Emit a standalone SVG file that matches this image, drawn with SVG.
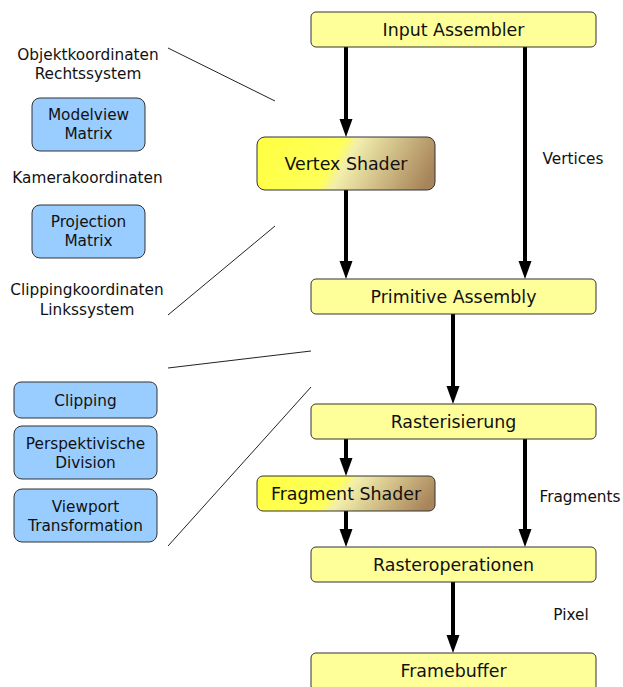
<svg xmlns="http://www.w3.org/2000/svg" width="623" height="687" viewBox="0 0 623 687">
<style>
.bx{fill:#ffff99;stroke:#333;stroke-width:1}
.sh{fill:url(#shg);stroke:#333;stroke-width:1}
.bl{fill:#99ccff;stroke:#333;stroke-width:1}
.t{font-family:"DejaVu Sans",sans-serif;fill:#111;text-anchor:middle}
.big{font-size:17.4px}
.sm{font-size:15.3px}
.ar{stroke:#000;stroke-width:4;fill:none;marker-end:url(#ah)}
.ln{stroke:#222;stroke-width:1;fill:none}
</style>
<defs>
<linearGradient id="shg" x1="0" y1="0.42" x2="1" y2="0.58">
<stop offset="0" stop-color="#ffff44"/>
<stop offset="0.42" stop-color="#ffff5a"/>
<stop offset="0.5" stop-color="#f2eeac"/>
<stop offset="1" stop-color="#a8845a"/>
</linearGradient>
<marker id="ah" markerUnits="userSpaceOnUse" markerWidth="20" markerHeight="14" refX="8" refY="6.5" orient="auto">
<path d="M0,0 L18,6.5 L0,13 z" fill="#000"/>
</marker>
</defs>
<g id="connectors">
<line class="ar" x1="346" y1="47" x2="346" y2="127"/>
<line class="ar" x1="346" y1="190" x2="346" y2="269"/>
<line class="ar" x1="525" y1="47" x2="525" y2="269"/>
<line class="ar" x1="453" y1="314" x2="453" y2="394"/>
<line class="ar" x1="346" y1="439" x2="346" y2="466"/>
<line class="ar" x1="346" y1="511" x2="346" y2="537"/>
<line class="ar" x1="525" y1="439" x2="525" y2="537"/>
<line class="ar" x1="453" y1="582" x2="453" y2="643"/>
<line class="ln" x1="168" y1="48" x2="275" y2="101"/>
<line class="ln" x1="275" y1="226" x2="168" y2="315"/>
<line class="ln" x1="168" y1="368" x2="311" y2="351"/>
<line class="ln" x1="311" y1="387" x2="168" y2="546"/>
</g>
<g id="input-assembler"><rect class="bx" x="311" y="12" width="285" height="35" rx="5"/><text class="t big" x="453.5" y="36">Input Assembler</text></g>
<g id="vertex-shader"><rect class="sh" x="257" y="137" width="178" height="53" rx="8"/><text class="t big" x="346" y="170">Vertex Shader</text></g>
<g id="primitive-assembly"><rect class="bx" x="311" y="279" width="285" height="35" rx="5"/><text class="t big" x="453.5" y="303">Primitive Assembly</text></g>
<g id="rasterisierung"><rect class="bx" x="311" y="404" width="285" height="35" rx="5"/><text class="t big" x="453.5" y="428">Rasterisierung</text></g>
<g id="fragment-shader"><rect class="sh" x="257" y="476" width="178" height="35" rx="6"/><text class="t big" x="346" y="500">Fragment Shader</text></g>
<g id="rasteroperationen"><rect class="bx" x="311" y="547" width="285" height="35" rx="5"/><text class="t big" x="453.5" y="571">Rasteroperationen</text></g>
<g id="framebuffer"><rect class="bx" x="311" y="653" width="285" height="38" rx="5"/><text class="t big" x="453.5" y="677">Framebuffer</text></g>
<g id="label-vertices"><text class="t sm" x="573" y="164">Vertices</text></g>
<g id="label-fragments"><text class="t sm" x="580" y="502">Fragments</text></g>
<g id="label-pixel"><text class="t sm" x="571" y="620">Pixel</text></g>
<g id="objektkoordinaten"><text class="t sm" x="88" y="60">Objektkoordinaten</text><text class="t sm" x="88" y="79">Rechtssystem</text></g>
<g id="modelview"><rect class="bl" x="32" y="98" width="113" height="53" rx="8"/><text class="t sm" x="88.5" y="120">Modelview</text><text class="t sm" x="88.5" y="139">Matrix</text></g>
<g id="kamerakoordinaten"><text class="t sm" x="87.5" y="183">Kamerakoordinaten</text></g>
<g id="projection"><rect class="bl" x="32" y="205" width="113" height="53" rx="8"/><text class="t sm" x="88.5" y="227">Projection</text><text class="t sm" x="88.5" y="246">Matrix</text></g>
<g id="clippingkoordinaten"><text class="t sm" x="87" y="295">Clippingkoordinaten</text><text class="t sm" x="87" y="315">Linkssystem</text></g>
<g id="clipping"><rect class="bl" x="14" y="382" width="143" height="36" rx="7"/><text class="t sm" x="85.5" y="406">Clipping</text></g>
<g id="perspektivische-division"><rect class="bl" x="14" y="426" width="143" height="53" rx="8"/><text class="t sm" x="85.5" y="449">Perspektivische</text><text class="t sm" x="85.5" y="468">Division</text></g>
<g id="viewport-transformation"><rect class="bl" x="14" y="489" width="143" height="53" rx="8"/><text class="t sm" x="85.5" y="512">Viewport</text><text class="t sm" x="85.5" y="531">Transformation</text></g>
</svg>
